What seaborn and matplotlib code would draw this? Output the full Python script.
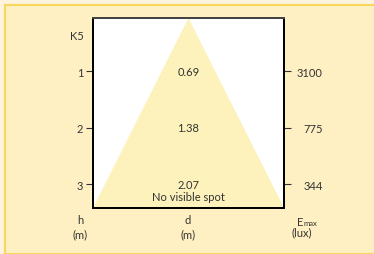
import matplotlib
matplotlib.use("Agg")
import matplotlib.pyplot as plt
import seaborn as sns
from matplotlib.patches import Rectangle

# values
heights = [1, 2, 3]
diameters = ['0.69', '1.38', '2.07']
emax = ['3100', '775', '344']
beam_label = 'K5'
note = 'No visible spot'

bg_out = '#fef4de'
bg_panel = '#fef0c2'
border = '#f9d65c'
cone = '#fdf2bc'
ink = '#333333'

sns.set_theme(style='white')
plt.rcParams['font.family'] = ['Lato', 'DejaVu Sans']
plt.rcParams['font.size'] = 8

fig = plt.figure(figsize=(3.74, 2.55), dpi=100)
fig.patch.set_facecolor(bg_out)
fig.patches.append(Rectangle((5 / 374, 0), 1, 1 - 6 / 255, transform=fig.transFigure,
                             facecolor=bg_panel, edgecolor=border, linewidth=1.5, zorder=-10))

ax = fig.add_axes([93 / 374, 46 / 255, 191 / 374, 190 / 255])
ax.set_facecolor('white')
ytop, ybot = 0.06, 3.42
ax.set_xlim(-1, 1)
ax.set_ylim(ybot, ytop)

# light cone from apex at the top to the full base width
cx = [-1, 0, 1]
cy = [ybot, ytop, ybot]
sns.lineplot(x=cx, y=cy, sort=False, color=cone, linewidth=0, ax=ax)
ax.fill(cx, cy, color=cone, zorder=1, lw=0)

for h, d in zip(heights, diameters):
    ax.text(0, h, d, ha='center', va='center', color=ink, fontsize=8, zorder=3)
ax.text(0, heights[-1] + 0.22, note, ha='center', va='center', color=ink, fontsize=8, zorder=3)

ax.set_yticks(heights)
ax.set_yticklabels([str(h) for h in heights])
ax.set_xticks([])
ax.tick_params(axis='y', left=True, length=5, width=0.8, color=ink, labelcolor=ink,
               labelsize=8, pad=2)

ax2 = ax.twinx()
ax2.set_ylim(ybot, ytop)
ax2.set_yticks(heights)
ax2.set_yticklabels(emax, ha='right')
ax2.tick_params(axis='y', right=True, length=5, width=0.8, color=ink, labelcolor=ink,
                labelsize=8, pad=23)

for a in (ax, ax2):
    for s in ('left', 'bottom', 'right'):
        a.spines[s].set_color('black')
        a.spines[s].set_linewidth(1.4)
    a.spines['top'].set_color('#444444')
    a.spines['top'].set_linewidth(1.4)

fig.text(84 / 374, 1 - 37 / 255, beam_label, ha='right', va='center', color=ink, fontsize=8)

for x, top, bottom in [(80, 'h', '(m)'), (188, 'd', '(m)')]:
    fig.text(x / 374, 1 - 220 / 255, top, ha='center', va='center', color=ink, fontsize=8)
    fig.text(x / 374, 1 - 235 / 255, bottom, ha='center', va='center', color=ink, fontsize=8)
fig.text(303 / 374, 1 - 226 / 255, 'E', ha='right', va='baseline', color=ink, fontsize=8)
fig.text(303 / 374, 1 - 226 / 255, 'max', ha='left', va='baseline', color=ink, fontsize=5.5)
fig.text(302 / 374, 1 - 233 / 255, '(lux)', ha='center', va='center', color=ink, fontsize=8)

fig.savefig('out.png', dpi=100, facecolor=fig.get_facecolor())
